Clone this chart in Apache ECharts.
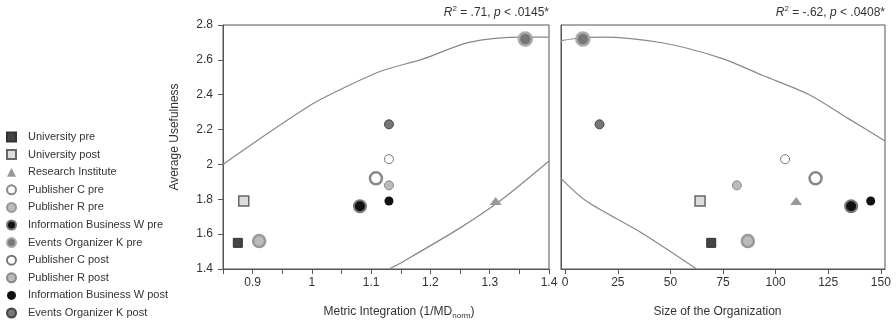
<!DOCTYPE html>
<html>
<head>
<meta charset="utf-8">
<script src="https://cdn.jsdelivr.net/npm/echarts@6.0.0/dist/echarts.min.js"></script>
<style>
  html, body { margin: 0; padding: 0; background: #fff; }
  #chart { width: 896px; height: 326px; }
</style>
</head>
<body>
<div id="chart"></div>
<script>
// groups shown in the legend, one value per group in each array below
const groups = ['University pre', 'University post', 'Research Institute', 'Publisher C pre', 'Publisher R pre',
    'Information Business W pre', 'Events Organizer K pre', 'Publisher C post', 'Publisher R post',
    'Information Business W post', 'Events Organizer K post'];
const usefulness = [1.55, 1.79, 1.79, 1.92, 1.56, 1.76, 2.72, 2.03, 1.88, 1.79, 2.23];
const metricIntegration = [0.875, 0.885, 1.31, 1.108, 0.911, 1.081, 1.36, 1.13, 1.13, 1.13, 1.13];
const orgSize = [69.4, 64.1, 109.8, 119, 86.8, 135.9, 8.4, 104.5, 81.6, 145.2, 16.3];

// confidence band curves, [x, y]
const leftUpperBand = [[0.85, 2.0], [0.935, 2.2], [1.0, 2.345], [1.03, 2.4], [1.115, 2.533], [1.188, 2.606], [1.267, 2.702], [1.357, 2.731], [1.4, 2.731]];
const leftLowerBand = [[1.13, 1.4], [1.155, 1.445], [1.25, 1.636], [1.317, 1.79], [1.4, 2.02]];
const rightUpperBand = [[-2, 2.71], [8, 2.727], [17, 2.73], [46, 2.698], [74, 2.61], [94, 2.51], [116, 2.4], [135, 2.26], [152, 2.135]];
const rightLowerBand = [[-2, 1.92], [10, 1.79], [36, 1.61], [62.5, 1.4]];

const sizeTicks = [0, 25, 50, 75, 100, 125, 150];

const markerStyles = {
    'University pre': {symbol: 'rect', size: 9, color: '#444', border: '#333', bw: 1},
    'University post': {symbol: 'rect', size: 10, color: '#ddd', border: '#666', bw: 1.5},
    'Research Institute': {symbol: 'triangle', size: [12, 8], color: '#999', border: '#999', bw: 0},
    'Publisher C pre': {symbol: 'circle', size: 12, color: '#fff', border: '#888', bw: 2.5},
    'Publisher R pre': {symbol: 'circle', size: 12, color: '#bbb', border: '#999', bw: 2.5},
    'Information Business W pre': {symbol: 'circle', size: 12, color: '#111', border: '#777', bw: 2},
    'Events Organizer K pre': {symbol: 'circle', size: 13, color: '#777', border: '#aaa', bw: 2.5},
    'Publisher C post': {symbol: 'circle', size: 9, color: '#fff', border: '#777', bw: 1},
    'Publisher R post': {symbol: 'circle', size: 9, color: '#bbb', border: '#888', bw: 1},
    'Information Business W post': {symbol: 'circle', size: 9, color: '#111', border: '#111', bw: 0},
    'Events Organizer K post': {symbol: 'circle', size: 9, color: '#777', border: '#444', bw: 1}
};

const font = 'Liberation Sans, Arial, sans-serif';
const axisColor = '#555';
const textColor = '#333';

const myChart = echarts.init(document.getElementById('chart'));

const titleStyle = {
    fontSize: 12, fontWeight: 'normal', color: textColor, fontFamily: font, lineHeight: 16,
    rich: {
        i: {fontStyle: 'italic', fontSize: 12, color: textColor, fontFamily: font},
        sup: {fontSize: 8, verticalAlign: 'top', color: textColor, fontFamily: font}
    }
};

const baseX = {
    type: 'value',
    nameLocation: 'middle',
    nameGap: 35,
    axisLine: {show: true, onZero: false, lineStyle: {color: axisColor}},
    axisTick: {show: true, length: 5, lineStyle: {color: axisColor}},
    splitLine: {show: false},
    axisLabel: {color: textColor, fontSize: 12, fontFamily: font, margin: 8}
};

const bandLine = (data, idx) => ({
    type: 'line',
    xAxisIndex: idx,
    yAxisIndex: idx,
    data: data,
    symbol: 'none',
    smooth: 0.3,
    silent: true,
    lineStyle: {color: '#888', width: 1.2},
    z: 1
});

const scatter = (xs, idx) => groups.map((name, i) => {
    const s = markerStyles[name];
    return {
        type: 'scatter',
        name: name,
        xAxisIndex: idx,
        yAxisIndex: idx,
        data: [[xs[i], usefulness[i]]],
        symbol: s.symbol,
        symbolSize: s.size,
        itemStyle: {color: s.color, borderColor: s.border, borderWidth: s.bw, opacity: 1},
        z: 3
    };
});

const option = {
    animation: false,
    textStyle: {fontFamily: font},
    title: [
        {text: '{i|R}{sup|2} = .71, {i|p} < .0145*', right: 347, top: 5, padding: 0, textStyle: titleStyle},
        {text: '{i|R}{sup|2} = -.62, {i|p} < .0408*', right: 11, top: 5, padding: 0, textStyle: titleStyle}
    ],
    legend: {
        data: groups,
        orient: 'vertical',
        left: 6,
        top: 131,
        padding: 0,
        itemWidth: 9,
        itemHeight: 9,
        itemGap: 5.6,
        selectedMode: false,
        textStyle: {fontSize: 11, color: textColor, fontFamily: font, lineHeight: 12, padding: [0, 0, 0, 7]}
    },
    grid: [
        {left: 223, right: 347, top: 25, bottom: 57, show: true, borderColor: axisColor, borderWidth: 1},
        {left: 561, right: 11, top: 25, bottom: 57, show: true, borderColor: axisColor, borderWidth: 1}
    ],
    xAxis: [
        {
            ...baseX,
            gridIndex: 0,
            min: 0.85,
            max: 1.4,
            interval: 0.05,
            name: 'Metric Integration (1/MD{sub|norm})',
            nameTextStyle: {
                color: textColor, fontSize: 12, fontFamily: font, lineHeight: 16, padding: [0, 0, 0, 26],
                rich: {sub: {fontSize: 8, verticalAlign: 'bottom', lineHeight: 14, color: textColor, fontFamily: font}}
            },
            axisLabel: {
                ...baseX.axisLabel,
                formatter: function (value) {
                    const t = value * 10;
                    if (Math.abs(t - Math.round(t)) > 1e-6 || value < 0.88) return '';
                    return String(Math.round(t) / 10);
                }
            }
        },
        {
            ...baseX,
            gridIndex: 1,
            min: -2,
            max: 152,
            name: 'Size of the Organization',
            nameTextStyle: {color: textColor, fontSize: 12, fontFamily: font, lineHeight: 16, padding: [0, 11, 0, 0]},
            axisTick: {...baseX.axisTick, customValues: sizeTicks},
            axisLabel: {...baseX.axisLabel, customValues: sizeTicks}
        }
    ],
    yAxis: [
        {
            type: 'value',
            gridIndex: 0,
            min: 1.4,
            max: 2.8,
            interval: 0.2,
            name: 'Average Usefulness',
            nameLocation: 'middle',
            nameGap: 42,
            nameTextStyle: {color: textColor, fontSize: 12, fontFamily: font, padding: [0, 0, 0, 20]},
            axisLine: {show: true, onZero: false, lineStyle: {color: axisColor}},
            axisTick: {show: true, length: 5, lineStyle: {color: axisColor}},
            splitLine: {show: false},
            axisLabel: {color: textColor, fontSize: 12, fontFamily: font, margin: 10}
        },
        {
            type: 'value',
            gridIndex: 1,
            min: 1.4,
            max: 2.8,
            interval: 0.2,
            axisLine: {show: true, onZero: false, lineStyle: {color: axisColor}},
            axisTick: {show: false},
            splitLine: {show: false},
            axisLabel: {show: false}
        }
    ],
    series: [
        bandLine(leftUpperBand, 0),
        bandLine(leftLowerBand, 0),
        bandLine(rightUpperBand, 1),
        bandLine(rightLowerBand, 1),
        ...scatter(metricIntegration, 0),
        ...scatter(orgSize, 1)
    ]
};

myChart.setOption(option);
</script>
</body>
</html>
